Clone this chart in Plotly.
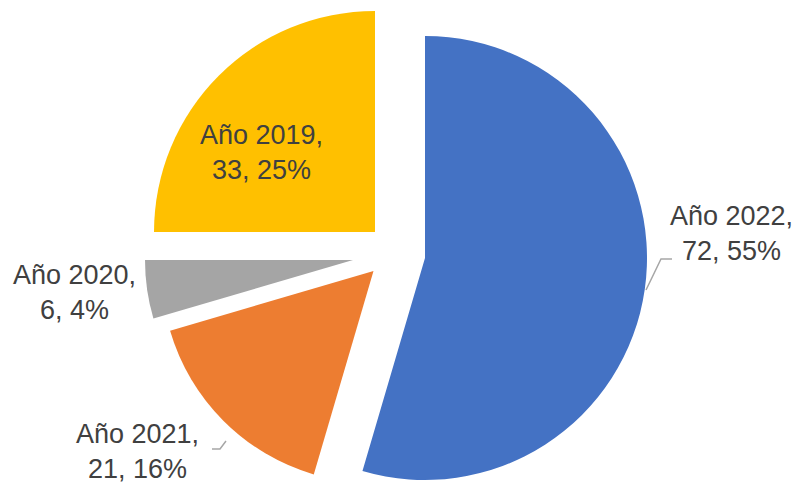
import plotly.graph_objects as go

# data (clockwise from 12 o'clock)
labels = ["Año 2022", "Año 2021", "Año 2020", "Año 2019"]
values = [72, 21, 6, 33]
percents = [55, 16, 4, 25]
colors = ["#4472C4", "#ED7D31", "#A5A5A5", "#FFC000"]

W, H = 796, 483

# each slice is exploded on its own: centre (px) and radius of every slice
slice_centre = [(425, 258), (373.5, 271), (353, 260), (375, 232)]
slice_radius = [222, 212, 208, 221]

# label centres and leader lines (px)
label_pos = [(731, 233), (137, 451), (74, 292), (261, 152)]
leaders = [
    [(646, 290), (661, 259), (672, 259)],
    [(212, 449), (220, 449), (226, 441)],
]


def px(x, y):
    return x / W, 1 - y / H


fig = go.Figure()

for i in range(len(labels)):
    cx, cy = slice_centre[i]
    r = slice_radius[i]
    cols = ["rgba(0,0,0,0)"] * len(labels)
    cols[i] = colors[i]
    fig.add_trace(go.Pie(
        labels=labels,
        values=values,
        marker=dict(colors=cols, line=dict(width=0)),
        sort=False,
        direction="clockwise",
        rotation=0,
        textinfo="none",
        hoverinfo="skip",
        showlegend=False,
        domain=dict(x=[(cx - r) / W, (cx + r) / W],
                    y=[max(0, (H - cy - r) / H), min(1, (H - cy + r) / H)]),
    ))

for i in range(len(labels)):
    x, y = px(*label_pos[i])
    fig.add_annotation(
        x=x, y=y, xref="paper", yref="paper",
        text=f"{labels[i]},<br>{values[i]}, {percents[i]}%",
        showarrow=False, xanchor="center", yanchor="middle",
        font=dict(family="Arial, Liberation Sans, sans-serif", size=27, color="#404040"),
    )

for pts in leaders:
    path = "M " + " L ".join(f"{px(a, b)[0]} {px(a, b)[1]}" for a, b in pts)
    fig.add_shape(type="path", path=path, xref="paper", yref="paper",
                  line=dict(color="#A6A6A6", width=1.5))

fig.update_layout(
    width=W, height=H,
    margin=dict(l=0, r=0, t=0, b=0),
    paper_bgcolor="white",
    plot_bgcolor="white",
)

# drop the browser's default body margin so the figure fills the window
fig.write_html(
    "out.html",
    config={"displayModeBar": False},
    post_script="document.body.style.margin='0px';document.body.style.overflow='hidden';",
)
